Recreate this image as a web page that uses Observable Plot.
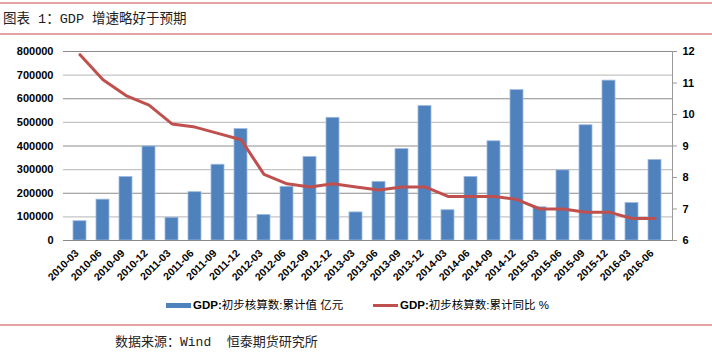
<!DOCTYPE html>
<html><head><meta charset="utf-8">
<script src="https://cdn.jsdelivr.net/npm/d3@7"></script>
<script src="https://cdn.jsdelivr.net/npm/@observablehq/plot@0.6"></script>
<style>
body{margin:0;background:#fff;}
#wrap{position:relative;width:712px;height:353px;overflow:hidden;font-family:"Liberation Sans","Noto Sans CJK SC",sans-serif;color:#000;}
.hr{position:absolute;left:0;width:712px;height:2px;background:#e4a3a3;}
#title{position:absolute;left:3px;top:11px;line-height:18px;font-family:"Liberation Mono","Noto Sans CJK SC",monospace;font-size:13.5px;color:#222;white-space:pre;}
#chart{position:absolute;left:0;top:36px;}
.lg{position:absolute;font-size:11.5px;font-weight:bold;line-height:14px;white-space:pre;}
.lg .cjk{font-weight:normal;}
#source{position:absolute;left:115px;top:334px;line-height:18px;font-family:"Liberation Mono","Noto Sans CJK SC",monospace;font-size:13px;color:#222;white-space:pre;}
</style>
</head><body>
<div id="wrap">
  <div class="hr" style="top:2px"></div>
  <div id="title">图表 1：GDP 增速略好于预期</div>
  <div class="hr" style="top:33px"></div>
  <div id="chart"></div>
  <div id="legend"></div>
  <div class="hr" style="top:324px"></div>
  <div id="source">数据来源：Wind  恒泰期货研究所</div>
</div>
<script>
const categories = ["2010-03","2010-06","2010-09","2010-12","2011-03","2011-06","2011-09","2011-12","2012-03","2012-06","2012-09","2012-12","2013-03","2013-06","2013-09","2013-12","2014-03","2014-06","2014-09","2014-12","2015-03","2015-06","2015-09","2015-12","2016-03","2016-06"];
const gdpCumulative = [81622,172840,268660,397983,96311,204459,320692,471564,107995,227098,353480,519322,118855,248009,386762,568845,128213,269044,419908,636463,140667,296868,487774,676708,158526,340637];
const gdpGrowth = [11.9,11.1,10.6,10.3,9.7,9.6,9.4,9.2,8.1,7.8,7.7,7.8,7.7,7.6,7.7,7.7,7.4,7.4,7.4,7.3,7.0,7.0,6.9,6.9,6.7,6.7];
const leftTicks = [0,100000,200000,300000,400000,500000,600000,700000,800000];
const rightTicks = [6,7,8,9,10,11,12];
const seriesNames = ["GDP:初步核算数:累计值 亿元","GDP:初步核算数:累计同比 %"];

const leftMax = 800000, rMin = 6, rMax = 12;
const toLeft = r => (r - rMin) / (rMax - rMin) * leftMax;
const rows = categories.map((c, i) => ({c, v: gdpCumulative[i], r: gdpGrowth[i]}));

const chart = Plot.plot({
  width: 712, height: 254,
  marginLeft: 63, marginRight: 40, marginTop: 15, marginBottom: 50,
  style: {fontFamily: '"Liberation Sans","Noto Sans CJK SC",sans-serif', fontSize: "11px", fontWeight: "bold", color: "#000", background: "transparent"},
  x: {domain: categories, paddingInner: 0.42, paddingOuter: 0.22, label: null},
  y: {domain: [0, leftMax], label: null},
  marks: [
    Plot.ruleY(leftTicks.filter((d, i) => i % 2 === 0 && d > 0), {stroke: "#8c8c8c", strokeWidth: 1}),
    Plot.ruleY(leftTicks.filter((d, i) => i % 2 === 1), {stroke: "#c4c4c4", strokeWidth: 1.4}),
    Plot.barY(rows, {x: "c", y: "v", fill: "#4F81BD", stroke: "#9dbbe0", strokeWidth: 0.8}),
    Plot.ruleY([0], {stroke: "#888"}),
    Plot.frame({anchor: "right", stroke: "#999"}),
    Plot.line(rows, {x: "c", y: d => toLeft(d.r), stroke: "#C0504D", strokeWidth: 3}),
    Plot.axisY(leftTicks, {anchor: "left", tickSize: 0, tickPadding: 10, tickFormat: d => String(d), label: null}),
    Plot.axisY(rightTicks.map(toLeft), {anchor: "right", tickSize: 4, tickPadding: 6, stroke: "#999", tickFormat: v => String(Math.round(rMin + v / leftMax * (rMax - rMin))), label: null}),
    Plot.axisX({tickRotate: -45, tickSize: 0, tickPadding: 11, dx: -3, fontSize: 10.5, label: null})
  ]
});
document.getElementById("chart").appendChild(chart);

// legend
const lg = document.getElementById("legend");
function addItem(x, kind, color, text) {
  const sw = document.createElement("div");
  sw.style.position = "absolute";
  if (kind === "bar") {
    sw.style.left = x + "px"; sw.style.top = "303px"; sw.style.width = "25px"; sw.style.height = "5px"; sw.style.background = color;
  } else {
    sw.style.left = x + "px"; sw.style.top = "304px"; sw.style.width = "25px"; sw.style.height = "3px"; sw.style.background = color;
  }
  lg.appendChild(sw);
  const t = document.createElement("div");
  t.className = "lg";
  t.style.left = (x + 27) + "px"; t.style.top = "298px";
  const m = text.match(/^(GDP:)(.*)$/);
  t.innerHTML = m[1] + '<span class="cjk">' + m[2] + '</span>';
  lg.appendChild(t);
}
addItem(166, "bar", "#4F81BD", seriesNames[0]);
addItem(373, "line", "#C0504D", seriesNames[1]);
</script>
</body></html>
